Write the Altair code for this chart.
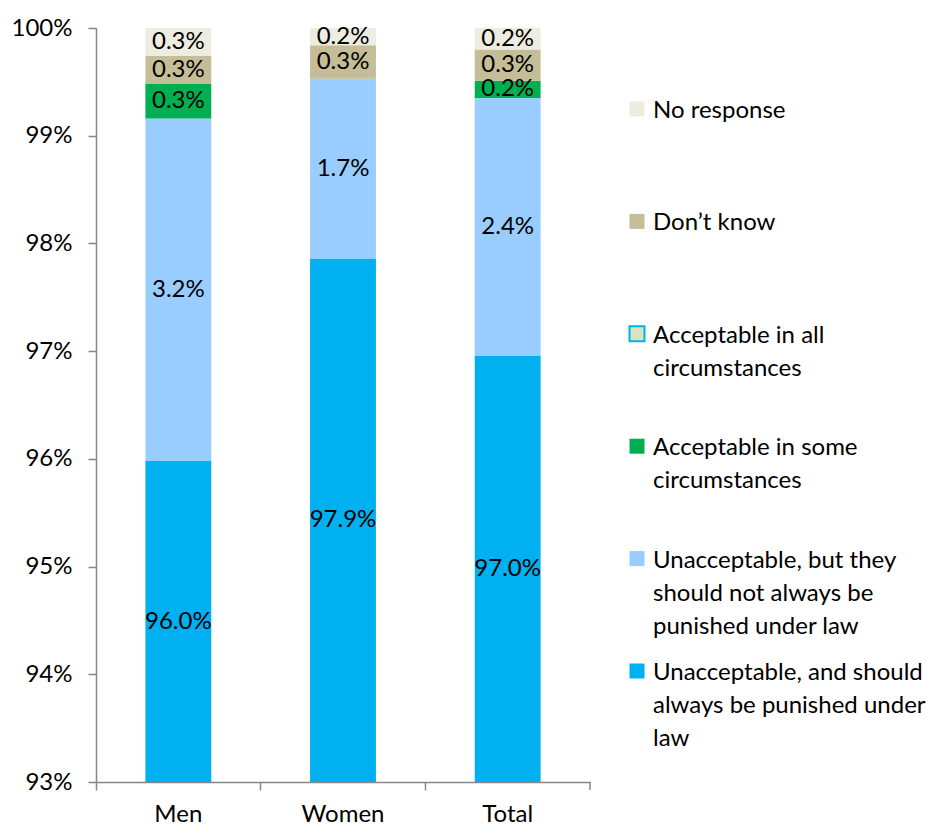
import altair as alt
import pandas as pd

categories = ["Men", "Women", "Total"]

series = [
    "Unacceptable, and should always be punished under law",
    "Unacceptable, but they should not always be punished under law",
    "Acceptable in some circumstances",
    "Acceptable in all circumstances",
    "Don’t know",
    "No response",
]

legend_lines = [
    ["Unacceptable, and should", "always be punished under", "law"],
    ["Unacceptable, but they", "should not always be", "punished under law"],
    ["Acceptable in some", "circumstances"],
    ["Acceptable in all", "circumstances"],
    ["Don’t know"],
    ["No response"],
]

colors = ["#00B0F0", "#99CCFF", "#00B050", "#D7E4BD", "#C4BD97", "#EEECE1"]

unacc_punish = [95.98, 97.86, 96.96]
unacc_not = [3.18, 1.67, 2.39]
acc_some = [0.32, 0.0, 0.16]
acc_all = [0.0, 0.0, 0.0]
dont_know = [0.26, 0.31, 0.29]
no_resp = [0.26, 0.16, 0.20]

y_ticks = [93, 94, 95, 96, 97, 98, 99, 100]
Y_MIN, Y_MAX = 93, 100

FONT = "Lato"
FS = 24

values = [unacc_punish, unacc_not, acc_some, acc_all, dont_know, no_resp]
rows = []
for ci, cat in enumerate(categories):
    cum = 0.0
    for si, s in enumerate(series):
        v = values[si][ci]
        start, end = cum, cum + v
        cum = end
        vis_start = max(start, Y_MIN)
        rows.append({
            "category": cat,
            "series": s,
            "order": si,
            "value": v,
            "start": start,
            "end": end,
            "mid": (vis_start + end) / 2,
            "label": f"{v:.1f}%",
        })
df = pd.DataFrame(rows)

W, H = 494, 754

x_enc = alt.X("category:N", sort=categories, title=None,
              scale=alt.Scale(paddingInner=0, paddingOuter=0),
              axis=alt.Axis(bandPosition=0, labelAngle=0, labelFontSize=FS, labelFont=FONT,
                            labelColor="#000000", labelPadding=12, tickSize=8,
                            domainColor="#868686", tickColor="#868686",
                            domainWidth=1.5, tickWidth=1.5, grid=False))
y_scale = alt.Scale(domain=[Y_MIN, Y_MAX], nice=False, zero=False)

bars = alt.Chart(df).mark_bar(width=alt.RelativeBandSize(0.4), clip=True).encode(
    x=x_enc,
    y=alt.Y("start:Q", scale=y_scale, title=None,
            axis=alt.Axis(values=y_ticks, labelExpr="format(datum.value, 'd') + '%'",
                          labelFontSize=FS, labelFont=FONT, labelColor="#000000",
                          labelPadding=16, tickSize=8, domainColor="#868686",
                          tickColor="#868686", domainWidth=1.5, tickWidth=1.5, grid=False)),
    y2="end:Q",
    color=alt.Color("series:N", scale=alt.Scale(domain=series, range=colors), legend=None),
)

labels = alt.Chart(df[df["value"] > 0]).mark_text(
    font=FONT, fontSize=FS, color="#000000", baseline="middle", align="center"
).encode(
    x=alt.X("category:N", sort=categories),
    y=alt.Y("mid:Q", scale=y_scale),
    text="label:N",
)

end_tick = alt.Chart(df.head(1)).mark_rule(color="#868686", strokeWidth=1.5).encode(
    x=alt.value(W), y=alt.value(H), y2=alt.value(H + 8)
)

main = alt.layer(bars, labels, end_tick).properties(width=W, height=H)

leg_df = pd.DataFrame({
    "series": series,
    "lines": legend_lines,
})
leg_order = list(reversed(series))
leg_y = alt.Y("series:N", sort=leg_order, axis=None,
              scale=alt.Scale(type="point", domain=leg_order, padding=0,
                              range=[81, 81 + 5 * 112.4]))

leg_sym = alt.Chart(leg_df).mark_square(size=225, opacity=1).encode(
    x=alt.value(8),
    y=leg_y,
    fill=alt.Fill("series:N", scale=alt.Scale(domain=series, range=colors), legend=None),
    stroke=alt.value("#00B0F0"),
    strokeWidth=alt.condition(alt.datum.series == "Acceptable in all circumstances",
                              alt.value(2), alt.value(0)),
)
leg_txt = alt.Chart(leg_df).mark_text(
    font=FONT, fontSize=FS, color="#000000", align="left", baseline="alphabetic",
    lineHeight=33, dy=9
).encode(
    x=alt.value(24),
    y=leg_y,
    text="lines",
)
legend = alt.layer(leg_sym, leg_txt).properties(width=283, height=H)

chart = alt.hconcat(main, legend, spacing=34).properties(
    padding={"left": 11, "top": 16, "right": 0, "bottom": 0},
    background="#FFFFFF",
).configure_view(strokeWidth=0, stroke="transparent")

chart.save("out.html", embed_options={"renderer": "svg", "actions": False})
